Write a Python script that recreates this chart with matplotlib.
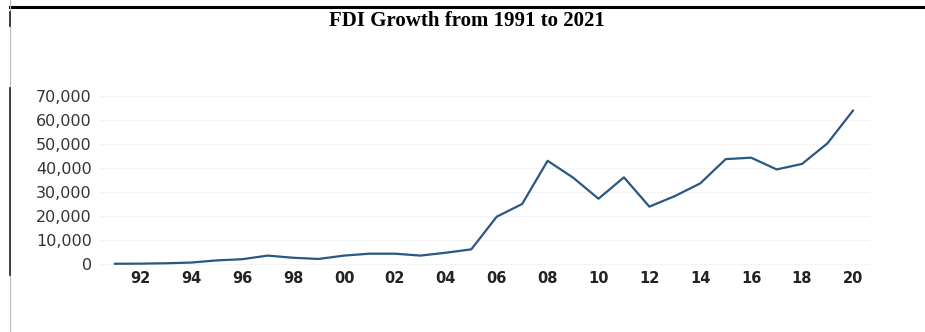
import numpy as np
import matplotlib.pyplot as plt
from matplotlib.lines import Line2D
from matplotlib.ticker import FuncFormatter

# FDI inflows per year (US$ million)
years = list(range(1991, 2021))
fdi = [100, 150, 300, 600, 1500, 2000, 3500, 2600, 2100, 3500,
       4300, 4300, 3500, 4700, 6100, 19700, 25000, 43000, 36000, 27200,
       36100, 23900, 28300, 33600, 43700, 44300, 39400, 41700, 50300, 63900]

x_ticks = list(range(1992, 2021, 2))
x_tick_labels = [f'{y % 100:02d}' for y in x_ticks]
y_ticks = list(range(0, 70001, 10000))

fig = plt.figure(figsize=(9.25, 3.32), dpi=100)
ax = fig.add_axes([100 / 925, 62 / 332, 770 / 925, 180 / 332])

ax.plot(years, fdi, color='#2a5783', linewidth=1.6)

ax.set_xlim(1990.41, 2020.67)
ax.set_ylim(-2500, 72500)
ax.set_xticks(x_ticks)
ax.set_xticklabels(x_tick_labels)
ax.set_yticks(y_ticks)
ax.yaxis.set_major_formatter(FuncFormatter(lambda v, p: f'{int(v):,}'))

for s in ax.spines.values():
    s.set_visible(False)
ax.tick_params(axis='y', length=0, pad=6, labelsize=11.5, labelcolor='#333333')
ax.tick_params(axis='x', length=0, pad=1, labelsize=10.5)
for lbl in ax.get_xticklabels():
    lbl.set_fontweight('bold')
    lbl.set_color('#222222')
ax.grid(axis='y', color='#f4f4f4', linewidth=0.8)

fig.text(467 / 925, 1 - 21 / 332, 'FDI Growth from 1991 to 2021',
         ha='center', va='center', fontsize=15, fontweight='bold',
         family='Liberation Serif')

# frame lines along the top and left edges
fig.add_artist(Line2D([10 / 925, 1], [1 - 7 / 332] * 2, color='black', linewidth=2.2))
fig.add_artist(Line2D([10 / 925] * 2, [0, 1], color='#bbbbbb', linewidth=0.8))
fig.add_artist(Line2D([10 / 925] * 2, [1 - 88 / 332, 1 - 275 / 332], color='#222222', linewidth=1.2))
fig.add_artist(Line2D([10 / 925] * 2, [1 - 12 / 332, 1 - 26 / 332], color='#222222', linewidth=1.2))

fig.savefig('out.png', dpi=100)
